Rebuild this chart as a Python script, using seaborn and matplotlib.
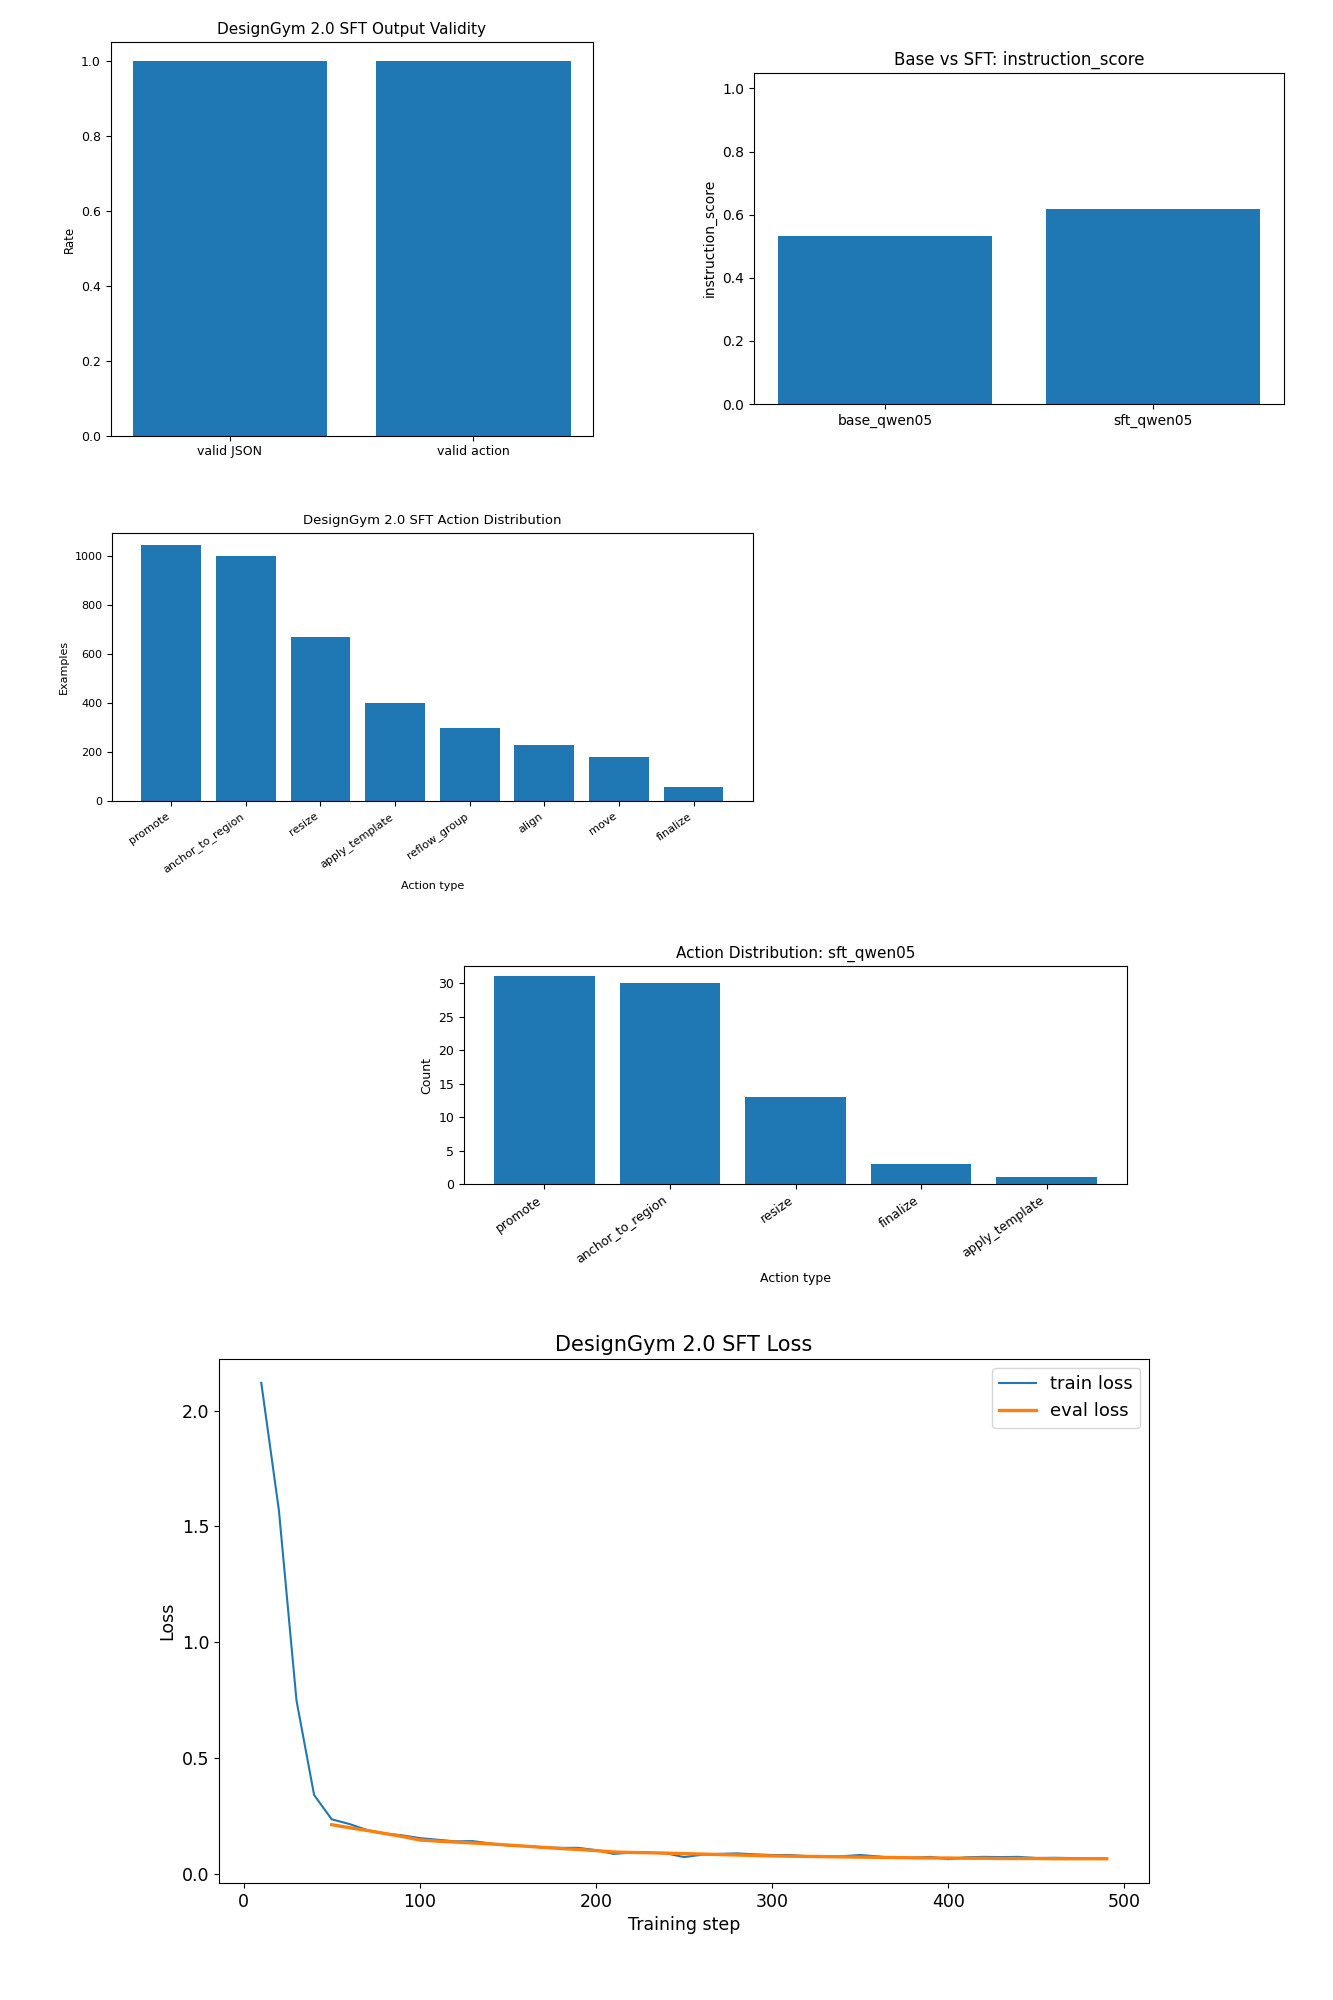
import numpy as np
import pandas as pd
import matplotlib
matplotlib.use("Agg")
import matplotlib.pyplot as plt
import seaborn as sns

BLUE = "#1f77b4"
ORANGE = "#ff7f0e"

# --- data ---------------------------------------------------------------
validity_labels = ["valid JSON", "valid action"]
validity_rates = [1.0, 1.0]

models = ["base_qwen05", "sft_qwen05"]
instruction_scores = [0.531, 0.618]

train_actions = ["promote", "anchor_to_region", "resize", "apply_template",
                 "reflow_group", "align", "move", "finalize"]
train_counts = [1044, 1003, 672, 403, 301, 231, 182, 58]

sft_actions = ["promote", "anchor_to_region", "resize", "finalize", "apply_template"]
sft_counts = [31, 30, 13, 3, 1]

train_steps = list(range(10, 500, 10))
train_loss = [2.12, 1.57, 0.748, 0.34, 0.235, 0.215, 0.189, 0.174, 0.166, 0.154,
              0.147, 0.140, 0.141, 0.131, 0.122, 0.120, 0.114, 0.112, 0.112, 0.102,
              0.086, 0.091, 0.091, 0.088, 0.072, 0.082, 0.086, 0.088, 0.084, 0.081,
              0.081, 0.076, 0.075, 0.076, 0.081, 0.075, 0.068, 0.069, 0.073, 0.063,
              0.071, 0.073, 0.072, 0.073, 0.068, 0.069, 0.068, 0.066, 0.065]

eval_steps = list(range(50, 500, 10))
eval_loss = [0.212, 0.199, 0.187, 0.174, 0.161, 0.146, 0.141, 0.137, 0.133, 0.129,
             0.124, 0.119, 0.114, 0.109, 0.105, 0.100, 0.094, 0.092, 0.091, 0.089,
             0.087, 0.085, 0.083, 0.081, 0.079, 0.077, 0.076, 0.075, 0.074, 0.073,
             0.072, 0.071, 0.070, 0.069, 0.068, 0.068, 0.067, 0.067, 0.066, 0.066,
             0.066, 0.065, 0.065, 0.065, 0.065]

W, H = 1333, 2000
fig = plt.figure(figsize=(W / 100, H / 100), dpi=100)


def box(left, top, right, bottom):
    # pixel box -> figure fraction
    return [left / W, 1 - bottom / H, (right - left) / W, (bottom - top) / H]


def bars(ax, labels, values, fs_tick, fs_label, fs_title, title, ylabel,
         xlabel=None, rot=0):
    sns.barplot(x=labels, y=values, color=BLUE, saturation=1, width=0.8,
                linewidth=0, ax=ax)
    n = len(labels)
    pad = 0.05 * (n - 1 + 0.8)
    ax.set_xlim(-0.4 - pad, n - 1 + 0.4 + pad)
    ax.set_title(title, fontsize=fs_title)
    ax.set_ylabel(ylabel, fontsize=fs_label)
    if xlabel:
        ax.set_xlabel(xlabel, fontsize=fs_label)
    ax.tick_params(labelsize=fs_tick)
    if rot:
        plt.setp(ax.get_xticklabels(), rotation=rot, ha="right")


# 1. output validity
ax1 = fig.add_axes(box(110.7, 42.3, 592.7, 435.7))
bars(ax1, validity_labels, validity_rates, 9, 8.5, 11,
     "DesignGym 2.0 SFT Output Validity", "Rate")
ax1.set_ylim(0, 1.05)

# 2. base vs sft
ax2 = fig.add_axes(box(753.7, 72.7, 1284, 404))
bars(ax2, models, instruction_scores, 10, 10, 12,
     "Base vs SFT: instruction_score", "instruction_score")
ax2.set_ylim(0, 1.05)

# 3. training action distribution
ax3 = fig.add_axes(box(112.3, 532.7, 752.5, 801.3))
bars(ax3, train_actions, train_counts, 8, 8, 9.5,
     "DesignGym 2.0 SFT Action Distribution", "Examples", "Action type", rot=35)

# 4. sft action distribution
ax4 = fig.add_axes(box(464, 966, 1127, 1184))
bars(ax4, sft_actions, sft_counts, 9, 9, 11,
     "Action Distribution: sft_qwen05", "Count", "Action type", rot=35)

# 5. loss curves
ax5 = fig.add_axes(box(219, 1359, 1149, 1883))
sns.lineplot(x=train_steps, y=train_loss, color=BLUE, linewidth=1.5,
             label="train loss", ax=ax5)
sns.lineplot(x=eval_steps, y=eval_loss, color=ORANGE, linewidth=2.4,
             label="eval loss", ax=ax5)
ax5.set_title("DesignGym 2.0 SFT Loss", fontsize=15)
ax5.set_xlabel("Training step", fontsize=12.5)
ax5.set_ylabel("Loss", fontsize=12.5)
ax5.tick_params(labelsize=12.5)
ax5.set_xticks([0, 100, 200, 300, 400, 500])
ax5.legend(loc="upper right", fontsize=13)

fig.savefig("out.png", dpi=100)
